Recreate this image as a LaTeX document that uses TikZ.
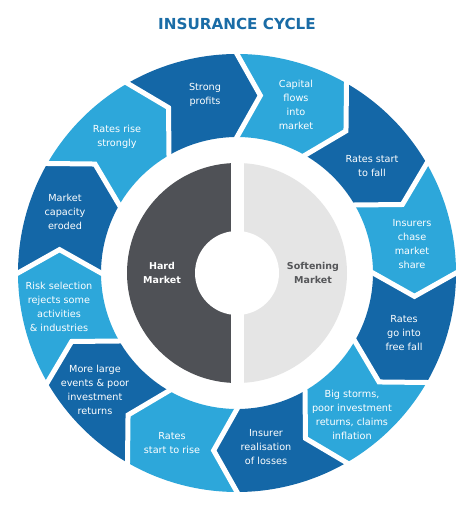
\documentclass[tikz,border=0pt]{standalone}
\usepackage{fontspec}
\setmainfont{DejaVu Sans}
\definecolor{darkb}{HTML}{1467A7}
\definecolor{lightb}{HTML}{2DA7DA}
\definecolor{titleb}{HTML}{1A6CA6}
\definecolor{hardgray}{HTML}{4F5156}
\definecolor{softgray}{HTML}{E5E5E5}
\definecolor{softtext}{HTML}{555659}
\begin{document}
\begin{tikzpicture}[x=1pt,y=1pt,
  seglabel/.style={text=white, align=center, inner sep=0pt, font=\fontsize{9.7}{14}\selectfont},
  centerlabel/.style={align=center, inner sep=0pt, font=\fontsize{9.5}{14}\selectfont\bfseries},
  gapline/.style={white, line width=5pt, line join=miter, line cap=rect}]
\useasboundingbox (0,0) rectangle (474,506);
\fill[white] (0,0) rectangle (474,506);
\node[inner sep=0pt, text=titleb, font=\fontsize{15.2}{18}\selectfont\bfseries] (title) at (237,482.5) {INSURANCE CYCLE};
\begin{scope}[shift={(237,233)}]
  \foreach \a/\c in {120/darkb, 90/lightb, 60/darkb, 30/lightb, 0/darkb, -30/lightb, -60/darkb, -90/lightb, -120/darkb, -150/lightb, -180/darkb, -210/lightb} {
    \pgfmathsetmacro\b{\a-30}
    \fill[\c] (\a:219pt) arc[start angle=\a, end angle=\b, radius=219pt] -- ({\b-7.5}:179pt) -- (\b:136pt) arc[start angle=\b, end angle=\a, radius=136pt] -- ({\a-7.5}:179pt) -- cycle;
  }
  \foreach \a in {0,30,...,330} {
    \draw[gapline] (\a:219pt) -- ({\a-7.5}:179pt) -- (\a:136pt);
  }
  \fill[hardgray] (90:110pt) arc[start angle=90, end angle=270, radius=110pt] -- cycle;
  \fill[softgray] (-90:110pt) arc[start angle=-90, end angle=90, radius=110pt] -- cycle;
  \fill[white] (-6.5,-112) rectangle (6.5,112);
  \fill[white] (0,0) circle[radius=42pt];
\end{scope}
\node[centerlabel, text=white] (hard) at (162,233) {Hard\\Market};
\node[centerlabel, text=softtext] (soft) at (313,233) {Softening\\Market};
\node[seglabel] (l1) at (205,411) {Strong\\profits};
\node[seglabel] (l2) at (296,401) {Capital\\flows\\into\\market};
\node[seglabel] (l3) at (372,340) {Rates start\\to fall};
\node[seglabel] (l4) at (412,262) {Insurers\\chase\\market\\share};
\node[seglabel] (l5) at (404,173) {Rates\\go into\\free fall};
\node[seglabel] (l6) at (352,91) {Big storms,\\poor investment\\returns, claims\\inflation};
\node[seglabel] (l7) at (266,59) {Insurer\\realisation\\of losses};
\node[seglabel] (l8) at (172,63) {Rates\\start to rise};
\node[seglabel] (l9) at (95,116) {More large\\events \& poor\\investment\\returns};
\node[seglabel] (l10) at (59,199) {Risk selection\\rejects some\\activities\\\& industries};
\node[seglabel] (l11) at (65,294) {Market\\capacity\\eroded};
\node[seglabel] (l12) at (117,369) {Rates rise\\strongly};
\end{tikzpicture}
\end{document}
